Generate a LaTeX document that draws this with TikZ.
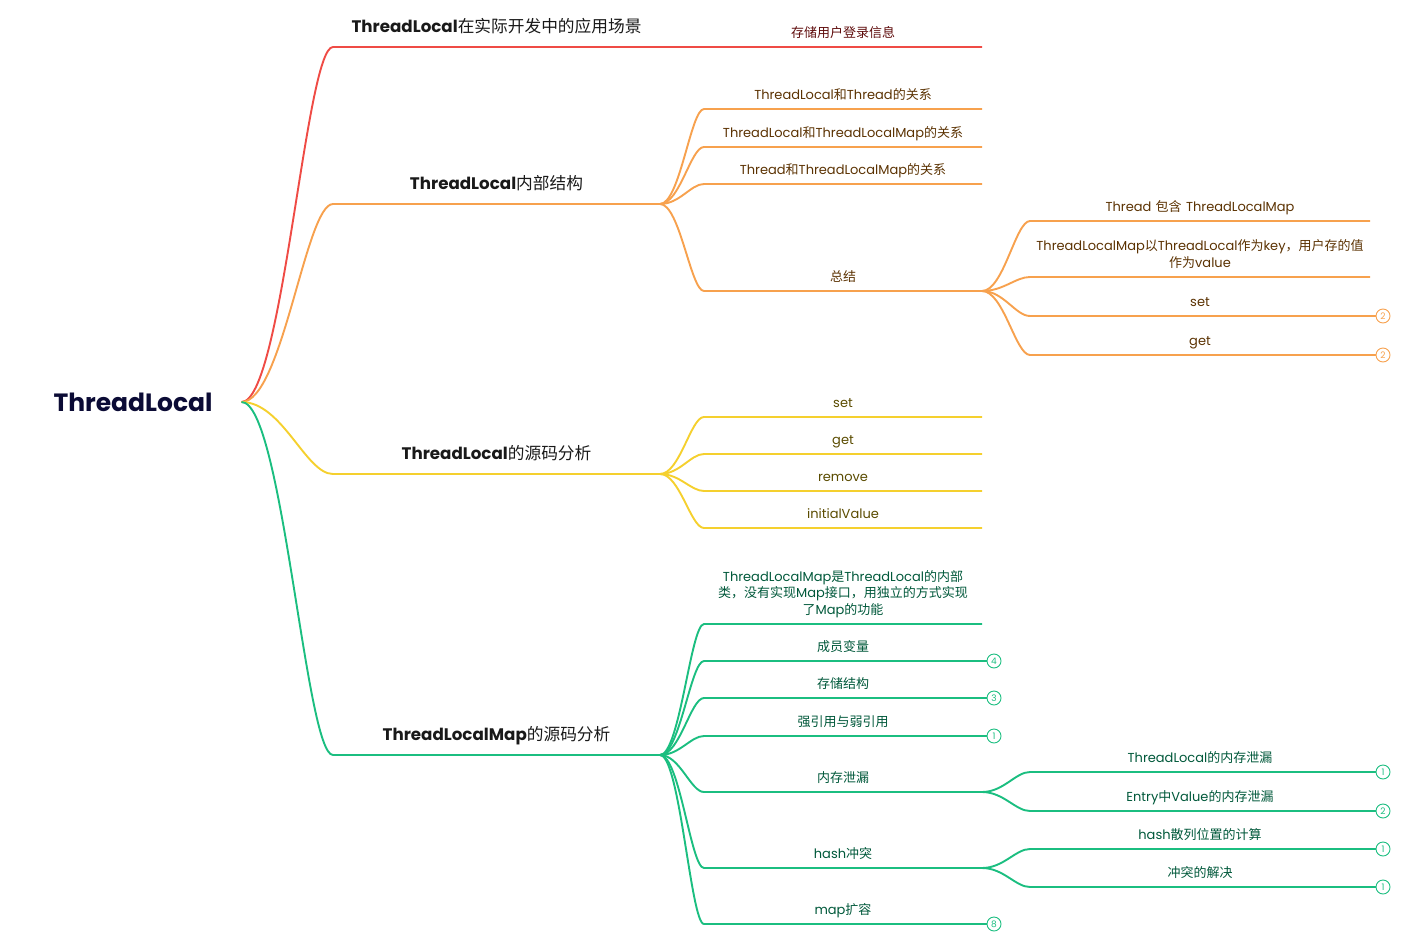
\documentclass[tikz,border=0pt]{standalone}
\usepackage{fontspec}
\setmainfont{Poppins}
\newfontfamily\zhfont{Noto Sans CJK SC}
\newcommand{\zht}[1]{{\zhfont #1}}
\usepackage{xcolor}
\usepackage{tikz}
\usetikzlibrary{positioning,calc}
\definecolor{roottext}{HTML}{0B0B35}
\definecolor{redline}{HTML}{EF4B45}
\definecolor{orline}{HTML}{F7A14E}
\definecolor{yeline}{HTML}{F5D02E}
\definecolor{grline}{HTML}{1BBE80}
\definecolor{redtext}{HTML}{5E0B0B}
\definecolor{ortext}{HTML}{5B3202}
\definecolor{yetext}{HTML}{5A4B00}
\definecolor{grtext}{HTML}{00583A}
\tikzset{
  root/.style={font=\fontsize{25}{30}\selectfont\bfseries,text=roottext,
    inner xsep=29pt,outer sep=0pt},
  l1/.style={anchor=south west,minimum width=327pt,text width=321pt,
    inner xsep=3pt,inner ysep=9pt,outer sep=0pt,align=center,
    font=\fontsize{16.7}{19}\selectfont,text=black!90,execute at end node=\strut},
  l2/.style={anchor=south west,minimum width=278pt,text width=272pt,
    inner xsep=3pt,inner ysep=5pt,outer sep=0pt,align=center,
    font=\fontsize{13}{16.5}\selectfont,execute at end node=\strut},
  l3/.style={l2,minimum width=340pt,text width=334pt},
  link/.style={to path={.. controls +({0.45*#1},0) and +({-0.3*#1},0) .. (\tikztotarget)}},
  redl/.style={draw=redline,line width=1.9pt},
  orl/.style={draw=orline,line width=1.9pt},
  yel/.style={draw=yeline,line width=1.9pt},
  grl/.style={draw=grline,line width=1.9pt},
  badge/.style={circle,draw=#1,fill=white,text=#1,line width=0.9pt,
    minimum size=14pt,inner sep=0pt,font=\fontsize{9}{9}\selectfont},
}
\begin{document}
\begin{tikzpicture}[x=1pt,y=-1pt]
  \useasboundingbox (0,0) rectangle (1427,934);
  \node[root] (root) at (133,402) {ThreadLocal};

  % first level
  \node[l1] (scene) at (333,47) {\textbf{ThreadLocal}\zht{在实际开发中的应用场景}};
  \node[l1] (inner) at (333,204) {\textbf{ThreadLocal}\zht{内部结构}};
  \node[l1] (code) at (333,474) {\textbf{ThreadLocal}\zht{的源码分析}};
  \node[l1] (map) at (333,755) {\textbf{ThreadLocalMap}\zht{的源码分析}};

  % application scene
  \node[l2,text=redtext] (login) at (704,47) {\zht{存储用户登录信息}};

  % inner structure
  \node[l2,text=ortext] (rel1) at (704,109) {ThreadLocal\zht{和}Thread\zht{的关系}};
  \node[l2,text=ortext] (rel2) at (704,147) {ThreadLocal\zht{和}ThreadLocalMap\zht{的关系}};
  \node[l2,text=ortext] (rel3) at (704,184) {Thread\zht{和}ThreadLocalMap\zht{的关系}};
  \node[l2,text=ortext] (summ) at (704,291) {\zht{总结}};
  \node[l3,text=ortext] (summ1) at (1030,221) {Thread \zht{包含} ThreadLocalMap};
  \node[l3,text=ortext] (summ2) at (1030,277) {ThreadLocalMap\zht{以}ThreadLocal\zht{作为}key\zht{，用户存的值}\\\zht{作为}value};
  \node[l3,text=ortext] (summ3) at (1030,316) {set};
  \node[l3,text=ortext] (summ4) at (1030,355) {get};

  % source of ThreadLocal
  \node[l2,text=yetext] (set) at (704,417) {set};
  \node[l2,text=yetext] (get) at (704,454) {get};
  \node[l2,text=yetext] (remove) at (704,491) {remove};
  \node[l2,text=yetext] (init) at (704,528) {initialValue};

  % source of ThreadLocalMap
  \node[l2,text=grtext] (map1) at (704,624) {ThreadLocalMap\zht{是}ThreadLocal\zht{的内部}\\\zht{类，没有实现}Map\zht{接口，用独立的方式实现}\\\zht{了}Map\zht{的功能}};
  \node[l2,text=grtext] (map2) at (704,661) {\zht{成员变量}};
  \node[l2,text=grtext] (map3) at (704,698) {\zht{存储结构}};
  \node[l2,text=grtext] (map4) at (704,736) {\zht{强引用与弱引用}};
  \node[l2,text=grtext] (leak) at (704,792) {\zht{内存泄漏}};
  \node[l2,text=grtext] (hash) at (704,868) {hash\zht{冲突}};
  \node[l2,text=grtext] (resize) at (704,924) {map\zht{扩容}};
  \node[l3,text=grtext] (leak1) at (1030,772) {ThreadLocal\zht{的内存泄漏}};
  \node[l3,text=grtext] (leak2) at (1030,811) {Entry\zht{中}Value\zht{的内存泄漏}};
  \node[l3,text=grtext] (hash1) at (1030,849) {hash\zht{散列位置的计算}};
  \node[l3,text=grtext] (hash2) at (1030,887) {\zht{冲突的解决}};

  % connectors
  \draw[redl] (root.east) to[link=91] (scene.south west) -- (scene.south east)
    to[link=44] (login.south west) -- (login.south east);
  \draw[orl] (root.east) to[link=91] (inner.south west) -- (inner.south east);
  \draw[yel] (root.east) to[link=91] (code.south west) -- (code.south east);
  \draw[grl] (root.east) to[link=91] (map.south west) -- (map.south east);
  \foreach \n in {rel1,rel2,rel3,summ}
    \draw[orl] (inner.south east) to[link=44] (\n.south west) -- (\n.south east);
  \foreach \n in {summ1,summ2,summ3,summ4}
    \draw[orl] (summ.south east) to[link=48] (\n.south west) -- (\n.south east);
  \foreach \n in {set,get,remove,init}
    \draw[yel] (code.south east) to[link=44] (\n.south west) -- (\n.south east);
  \foreach \n in {map1,map2,map3,map4,leak,hash,resize}
    \draw[grl] (map.south east) to[link=44] (\n.south west) -- (\n.south east);
  \foreach \n in {leak1,leak2}
    \draw[grl] (leak.south east) to[link=48] (\n.south west) -- (\n.south east);
  \foreach \n in {hash1,hash2}
    \draw[grl] (hash.south east) to[link=48] (\n.south west) -- (\n.south east);

  % counters
  \node[badge=orline] (bset) at ([xshift=13pt]summ3.south east) {2};
  \node[badge=orline] (bget) at ([xshift=13pt]summ4.south east) {2};
  \node[badge=grline] (bmap2) at ([xshift=12pt]map2.south east) {4};
  \node[badge=grline] (bmap3) at ([xshift=12pt]map3.south east) {3};
  \node[badge=grline] (bmap4) at ([xshift=12pt]map4.south east) {1};
  \node[badge=grline] (bresize) at ([xshift=12pt]resize.south east) {8};
  \node[badge=grline] (bleak1) at ([xshift=13pt]leak1.south east) {1};
  \node[badge=grline] (bleak2) at ([xshift=13pt]leak2.south east) {2};
  \node[badge=grline] (bhash1) at ([xshift=13pt]hash1.south east) {1};
  \node[badge=grline] (bhash2) at ([xshift=13pt]hash2.south east) {1};
  \draw[orl] (summ3.south east) -- (bset);
  \draw[orl] (summ4.south east) -- (bget);
  \draw[grl] (map2.south east) -- (bmap2);
  \draw[grl] (map3.south east) -- (bmap3);
  \draw[grl] (map4.south east) -- (bmap4);
  \draw[grl] (resize.south east) -- (bresize);
  \draw[grl] (leak1.south east) -- (bleak1);
  \draw[grl] (leak2.south east) -- (bleak2);
  \draw[grl] (hash1.south east) -- (bhash1);
  \draw[grl] (hash2.south east) -- (bhash2);
\end{tikzpicture}
\end{document}
